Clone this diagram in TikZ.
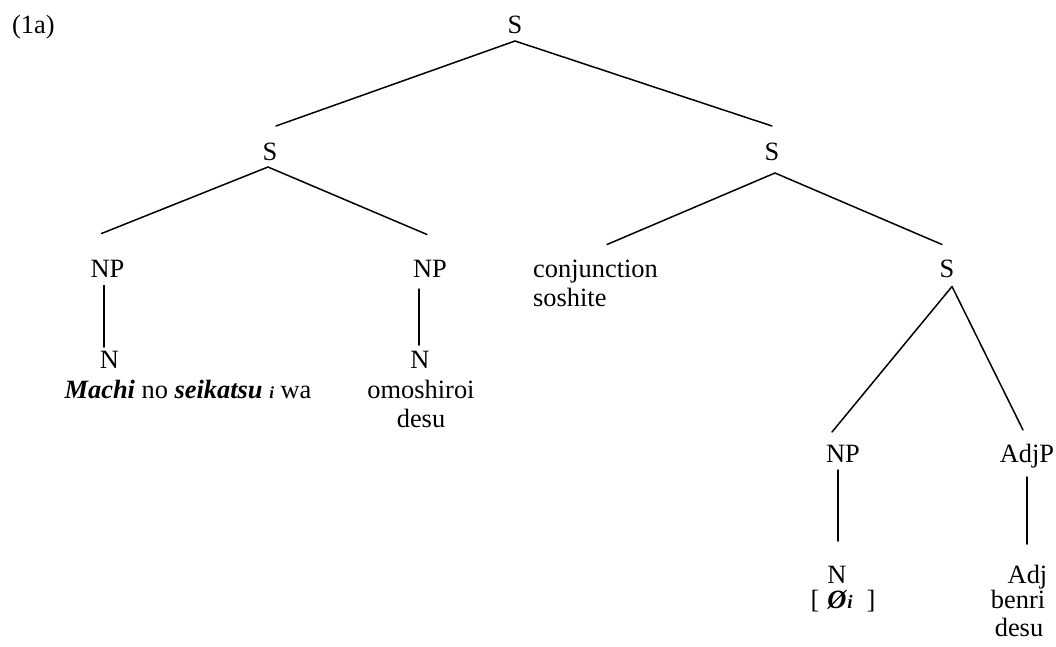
\documentclass[tikz,border=0pt]{standalone}
\usepackage{fontspec}
\setmainfont{Liberation Serif}
\usetikzlibrary{calc}
\begin{document}
\begin{tikzpicture}[x=1pt,y=-1pt,
  lbl/.style={anchor=base,inner sep=0pt,font=\fontsize{26.4}{30}\selectfont},
  edge/.style={line width=1.5pt,line cap=round}]
\useasboundingbox (0,0) rectangle (1056,646);
% labels
\node[lbl,anchor=base west] (ex) at (12,33) {(1a)};
\node[lbl] (Stop) at (515,33) {S};
\node[lbl] (Sl) at (270,160) {S};
\node[lbl] (Sr) at (772,160) {S};
\node[lbl] (NPl) at (107.5,277.5) {NP};
\node[lbl] (NPr) at (430,277.5) {NP};
\node[lbl,anchor=base west] (conj) at (533,277.5) {conjunction};
\node[lbl,anchor=base west] (sosh) at (533,306.5) {soshite};
\node[lbl] (S3) at (947,277.5) {S};
\node[lbl] (Nl) at (109.5,368) {N};
\node[lbl] (Nr) at (420,368) {N};
\node[lbl] (machi) at (188,398) {\textbf{\textit{Machi}} no \textbf{\textit{seikatsu}} {\fontsize{17}{20}\selectfont\bfseries\itshape i} wa};
\node[lbl] (omo) at (421,398) {omoshiroi};
\node[lbl] (desu1) at (421,427) {desu};
\node[lbl] (NP3) at (843,462) {NP};
\node[lbl] (AdjP) at (1027,462) {AdjP};
\node[lbl] (N3) at (837,583) {N};
\node[lbl] (empty) at (843,608) {[\hspace{8pt}\textbf{\textit{Ø}}{\fontsize{19}{22}\selectfont\bfseries\itshape i}\hspace{14pt}]};
\node[lbl] (Adj) at (1027.5,583) {Adj};
\node[lbl] (benri) at (1018,608) {benri};
\node[lbl] (desu2) at (1019,636) {desu};
% connectors
\draw[edge] ($(Stop.base)+(0,8)$) -- ($(Sl.base)+(6,-34)$);
\draw[edge] ($(Stop.base)+(0,8)$) -- ($(Sr.base)+(0,-34)$);
\draw[edge] ($(Sl.base)+(-2,7)$) -- ($(NPl.base)+(-6,-44)$);
\draw[edge] ($(Sl.base)+(-2,7)$) -- ($(NPr.base)+(-3,-43)$);
\draw[edge] ($(NPl.base)+(-3.5,8)$) -- ($(Nl.base)+(-5.5,-21)$);
\draw[edge] ($(NPr.base)+(-11,11.5)$) -- ($(Nr.base)+(-1,-23)$);
\draw[edge] ($(Sr.base)+(3,13)$) -- ($(conj.base west)+(74,-33)$);
\draw[edge] ($(Sr.base)+(3,13)$) -- ($(S3.base)+(-5,-33)$);
\draw[edge] ($(S3.base)+(5,9)$) -- ($(NP3.base)+(-11,-30)$);
\draw[edge] ($(S3.base)+(5,9)$) -- ($(AdjP.base)+(-4,-32)$);
\draw[edge] ($(NP3.base)+(-5,8)$) -- ($(N3.base)+(1,-42)$);
\draw[edge] ($(AdjP.base)+(0,15)$) -- ($(Adj.base)+(-0.5,-39)$);
\end{tikzpicture}
\end{document}
